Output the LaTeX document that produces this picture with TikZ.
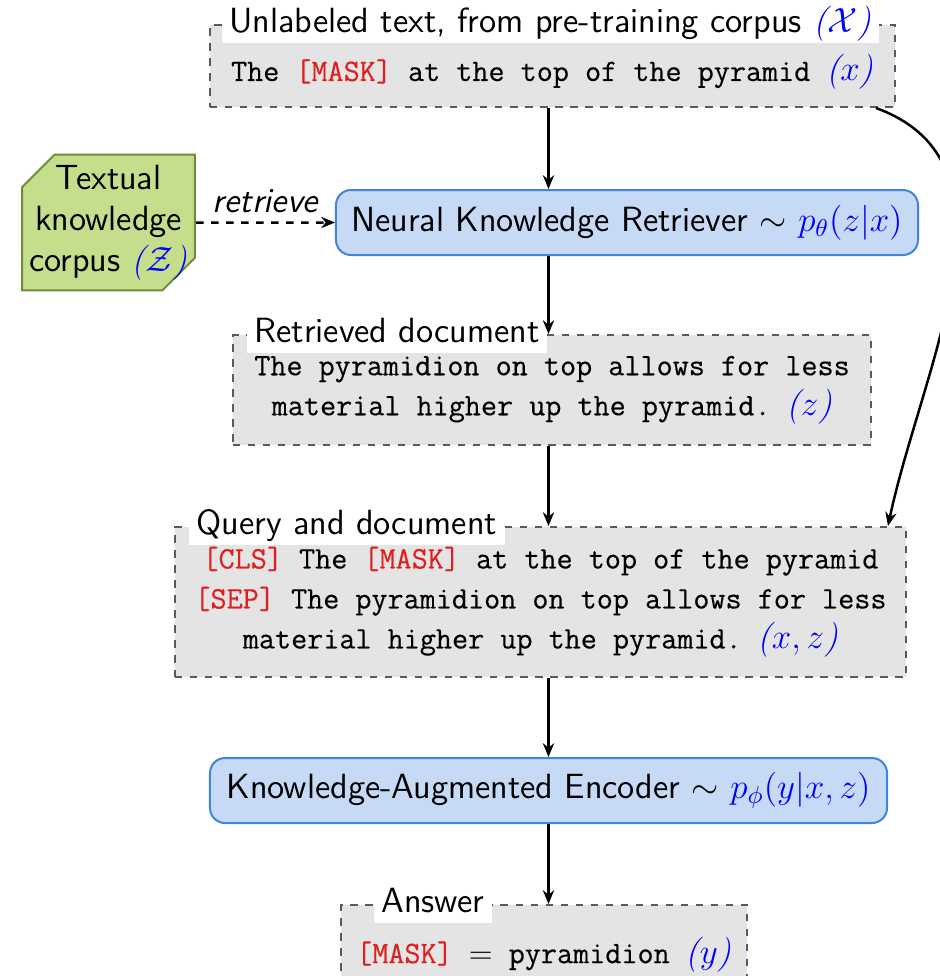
\documentclass[tikz,border=0pt]{standalone}
\usepackage{fix-cm}
\usepackage{fontspec}
\setmonofont{Latin Modern Mono}[FakeBold=0.35]
\usepackage{tikz}
\usetikzlibrary{arrows.meta,positioning,shapes.misc}

\definecolor{grisborde}{RGB}{90,90,90}
\definecolor{grisfondo}{RGB}{228,228,228}
\definecolor{azulborde}{RGB}{66,133,215}
\definecolor{azulfondo}{RGB}{198,218,246}
\definecolor{verdeborde}{RGB}{110,140,60}
\definecolor{verdefondo}{RGB}{197,222,140}
\definecolor{rojotoken}{RGB}{225,30,30}

\newcommand{\tok}[1]{\textcolor{rojotoken}{#1}}
\newcommand{\rv}[1]{\textcolor{blue}{\fontsize{14}{16}\selectfont{\normalfont\itshape(}$#1${\normalfont\itshape)}}}

\begin{document}
\begin{tikzpicture}[
        x=0.4pt, y=-0.4pt,
        font=\sffamily\fontsize{14}{16.4}\selectfont,
        docbox/.style={draw=grisborde, dashed, thick, fill=grisfondo, align=center, inner sep=0pt,
            font=\ttfamily\fontsize{12.5}{16}\selectfont, execute at begin node={\rule{0pt}{#1}}},
        docbox/.default=14pt,
        modelbox/.style={draw=azulborde, thick, fill=azulfondo, rounded corners=6pt, inner sep=0pt, minimum height=26pt},
        corpusbox/.style={draw=verdeborde, thick, fill=verdefondo, chamfered rectangle,
            chamfered rectangle corners={north west, south east}, chamfered rectangle xsep=6.5pt,
            chamfered rectangle ysep=6.5pt, align=center, inner xsep=-3.7pt, inner ysep=-2.4pt},
        boxtitle/.style={fill=white, anchor=west, inner xsep=3pt, inner ysep=1pt, text height=10pt, text depth=3pt},
        flecha/.style={-{Stealth[length=5.5pt, width=4.5pt]}, line width=1pt}
    ]
    \useasboundingbox (0,0) rectangle (940,976);
    \clip (0,0) rectangle (940,976);

    \node[docbox=15.5pt, minimum width=274pt, minimum height=32.8pt] (xbox) at (552.5,66)
        {The \tok{[MASK]} at the top of the pyramid \rv{x}};
    \node[modelbox, minimum width=232.8pt, below=32.4pt of xbox, xshift=29.8pt] (retr)
        {Neural Knowledge Retriever $\sim$ \textcolor{blue}{$p_\theta(z|x)$}};
    \node[corpusbox, left=55.6pt of retr] (corpus)
        {Textual\\knowledge\\corpus \rv{\mathcal{Z}}};
    \node[docbox, minimum width=255.2pt, minimum height=44pt, below=31.2pt of retr, xshift=-30pt] (rdoc)
        {The pyramidion on top allows for less\\material higher up the pyramid. \rv{z}};
    \node[docbox, minimum width=292.4pt, minimum height=60pt, below=32pt of rdoc, xshift=-4.6pt] (qbox)
        {\tok{[CLS]} The \tok{[MASK]} at the top of the pyramid\\
         \tok{[SEP]} The pyramidion on top allows for less\\
         material higher up the pyramid. \rv{x,z}};
    \node[modelbox, minimum width=270.8pt, below=31.6pt of qbox, xshift=3.2pt] (enc)
        {Knowledge-Augmented Encoder $\sim$ \textcolor{blue}{$p_\phi(y|x,z)$}};
    \node[docbox, minimum width=162.4pt, minimum height=36pt, below=32pt of enc, xshift=-1.8pt] (ans)
        {\tok{[MASK]} $=$ pyramidion \rv{y}};

    % titulos sobre el borde
    \node[boxtitle] (xtitle) at ([xshift=5pt]xbox.north west) {Unlabeled text, from pre-training corpus \rv{\mathcal{X}}};
    \node[boxtitle] (rtitle) at ([xshift=5.8pt]rdoc.north west) {Retrieved document};
    \node[boxtitle] (qtitle) at ([xshift=5.8pt]qbox.north west) {Query and document};
    \node[boxtitle] (atitle) at ([xshift=13.4pt]ans.north west) {Answer};

    \draw[flecha] (xbox.south -| enc) -- (retr.north -| enc);
    \draw[flecha] (retr.south -| enc) -- (rdoc.north -| enc);
    \draw[flecha] (rdoc.south -| enc) -- (qbox.north -| enc);
    \draw[flecha] (qbox.south -| enc) -- (enc.north);
    \draw[flecha] (enc.south) -- (ans.north -| enc.south);
    \draw[flecha, dashed] (corpus) -- (retr) node[midway, above, font=\sffamily\itshape\fontsize{14}{16}\selectfont] {retrieve};
    \draw[flecha] ([xshift=-8pt]xbox.south east) to[out=-20, in=78] ([xshift=-7.6pt]qbox.north east);
\end{tikzpicture}
\end{document}
